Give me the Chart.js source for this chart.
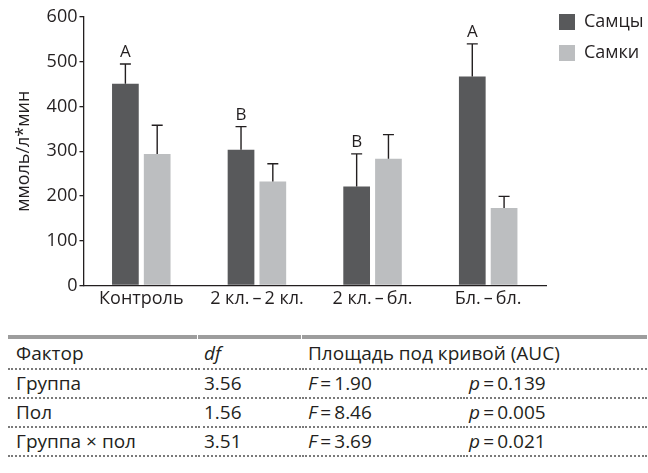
<!DOCTYPE html>
<html>
<head>
<meta charset="utf-8">
<script src="https://cdn.jsdelivr.net/npm/chart.js@4.4.1/dist/chart.umd.min.js"></script>
<style>
    body { margin: 0; background: #fff; font-family: "Open Sans", sans-serif; color: #231f20; }
    #chartBox { position: absolute; left: 0; top: 0; width: 648px; height: 315px; }
    table { position: absolute; left: 7px; top: 335px; border-collapse: separate; border-spacing: 1px 0; table-layout: fixed; width: 641px; font-size: 19px; }
    th, td { text-align: left; font-weight: normal; padding: 0 0 0 6px; white-space: nowrap; height: 27px; line-height: 27px; border-bottom: 2px dotted #7a7a7a; }
    th { border-top: 4px solid #9d9d9d; height: 29px; line-height: 29px; }
    th:first-child, td:first-child { padding-left: 8px; }
    i { font-style: italic; }
</style>
</head>
<body>
<div id="chartBox"><canvas id="myChart" width="648" height="315"></canvas></div>
<table>
    <colgroup><col style="width:189px"><col style="width:103px"><col style="width:160px"><col style="width:184px"></colgroup>
    <thead id="tableHead"></thead>
    <tbody id="tableBody"></tbody>
</table>
<script>
// chart data
const categories = ['Контроль', '2 кл.\u2009–\u20092 кл.', '2 кл.\u2009–\u2009бл.', 'Бл.\u2009–\u2009бл.'];
const maleMeans = [451, 303, 221, 467];
const maleErrors = [44, 52, 73, 73];
const femaleMeans = [294, 232, 283, 173];
const femaleErrors = [64, 40, 54, 26];
const groupLetters = ['A', 'B', 'B', 'A'];

// table data
const factors = ['Группа', 'Пол', 'Группа × пол'];
const dfValues = ['3.56', '1.56', '3.51'];
const fValues = ['1.90', '8.46', '3.69'];
const pValues = ['0.139', '0.005', '0.021'];

const ink = '#231f20';

document.getElementById('tableHead').innerHTML =
    '<tr><th>Фактор</th><th><i>df</i></th><th colspan="2">Площадь под кривой (AUC)</th></tr>';
document.getElementById('tableBody').innerHTML = factors.map((f, i) =>
    `<tr><td>${f}</td><td>${dfValues[i]}</td><td><i>F</i>\u2009=\u2009${fValues[i]}</td><td><i>p</i>\u2009=\u2009${pValues[i]}</td></tr>`
).join('');

Chart.defaults.font.family = '"Open Sans", sans-serif';
Chart.defaults.font.size = 18;
Chart.defaults.color = ink;

// error bars (upper only) and letters above the male bars
const errorBars = {
    id: 'errorBars',
    afterDatasetsDraw(chart) {
        const { ctx } = chart;
        const y = chart.scales.y;
        const errs = [maleErrors, femaleErrors];
        ctx.save();
        ctx.strokeStyle = ink;
        ctx.fillStyle = ink;
        ctx.lineWidth = 1.4;
        ctx.font = '17px "Open Sans", sans-serif';
        ctx.textAlign = 'center';
        ctx.textBaseline = 'alphabetic';
        chart.data.datasets.forEach((ds, i) => {
            chart.getDatasetMeta(i).data.forEach((bar, j) => {
                const top = y.getPixelForValue(ds.data[j] + errs[i][j]);
                ctx.beginPath();
                ctx.moveTo(bar.x, bar.y);
                ctx.lineTo(bar.x, top);
                ctx.moveTo(bar.x - 5.5, top);
                ctx.lineTo(bar.x + 5.5, top);
                ctx.stroke();
                if (i === 0) {
                    ctx.fillText(groupLetters[j], bar.x, top - 7);
                }
            });
        });
        ctx.restore();
    },
};

new Chart(document.getElementById('myChart'), {
    type: 'bar',
    data: {
        labels: categories,
        datasets: [
            {
                label: 'Самцы',
                data: maleMeans,
                backgroundColor: '#58595b',
                categoryPercentage: 0.55,
                barPercentage: 0.84,
            },
            {
                label: 'Самки',
                data: femaleMeans,
                backgroundColor: '#bcbec0',
                categoryPercentage: 0.55,
                barPercentage: 0.84,
            },
        ],
    },
    options: {
        responsive: false,
        devicePixelRatio: 1,
        animation: false,
        layout: {
            padding: { left: 13, top: 0, right: 0, bottom: 2 },
        },
        scales: {
            y: {
                min: 0,
                max: 600,
                // push the plot top down without moving the legend
                afterFit: (scale) => {
                    scale.paddingTop = 17;
                },
                ticks: { stepSize: 100, padding: 2, color: ink },
                border: { display: true, color: ink, width: 1.3 },
                grid: { drawOnChartArea: false, drawTicks: true, tickLength: 4, color: ink, lineWidth: 1.3 },
                title: { display: true, text: 'ммоль/л*мин', color: ink, padding: { top: 0, bottom: 10 } },
            },
            x: {
                ticks: { padding: 3, color: ink },
                border: { display: true, color: ink, width: 1.3 },
                grid: { display: false, drawTicks: false },
            },
        },
        plugins: {
            legend: {
                position: 'right',
                align: 'start',
                maxWidth: 102,
                labels: {
                    boxWidth: 16,
                    boxHeight: 16,
                    padding: 13,
                    color: ink,
                },
            },
            tooltip: { enabled: false },
        },
    },
    plugins: [errorBars],
});
</script>
</body>
</html>
